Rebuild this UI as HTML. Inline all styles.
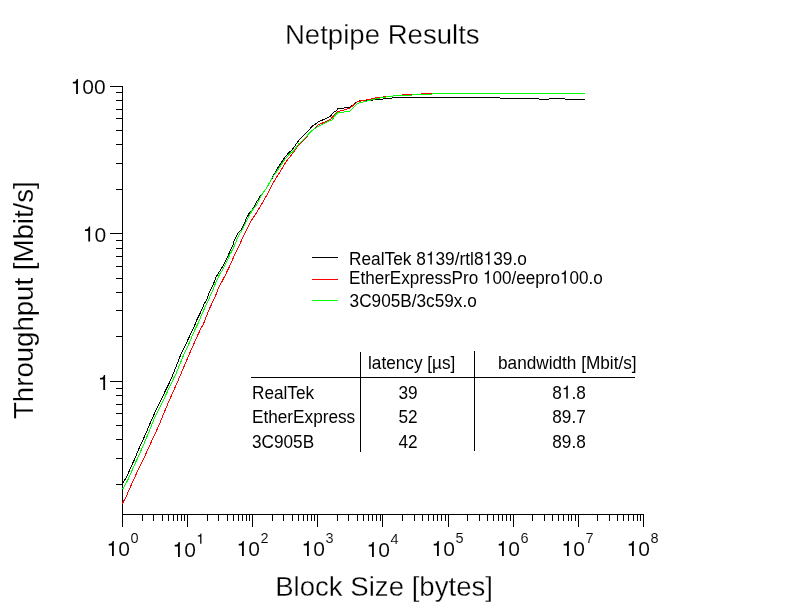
<!DOCTYPE html>
<html><head><meta charset="utf-8"><title>Netpipe Results</title>
<style>
html,body{margin:0;padding:0;background:#fff;}
svg{display:block;will-change:transform;}
text{font-family:"Liberation Sans",sans-serif;fill:#000;stroke:#fff;stroke-width:0.3px;paint-order:fill stroke;}
.ax{stroke:#000;stroke-width:1;fill:none;shape-rendering:crispEdges;}
.cv{stroke-width:1;fill:none;shape-rendering:crispEdges;stroke-linejoin:round;}
.big{font-size:27.6px;}
.sm{font-size:17.2px;stroke:none;}
.tk{font-size:21px;stroke-width:0.1px;}
.sup{font-size:14.5px;stroke-width:0.1px;}
.h{visibility:hidden;}
.g1{fill:#000;stroke:none;}
</style></head><body>
<svg width="792" height="612" viewBox="0 0 792 612">
<rect x="0" y="0" width="792" height="612" fill="#ffffff"/>
<text class="big" transform="translate(284.9,44) scale(1,1.035)">Netpipe Results</text>
<text class="big" transform="translate(275.2,595.7) scale(1,1.035)">Block Size [bytes]</text>
<text class="big" style="stroke-width:0.15px" transform="translate(33,419) rotate(-90) scale(1,1.025)">Throughput [Mbit/s]</text>
<path class="ax" d="M122.5 86.5V514.5H643.5M122.5 514.5V526.5M142.5 514.5V520.5M153.5 514.5V520.5M162.5 514.5V520.5M168.5 514.5V520.5M173.5 514.5V520.5M177.5 514.5V520.5M181.5 514.5V520.5M184.5 514.5V520.5M187.5 514.5V526.5M207.5 514.5V520.5M218.5 514.5V520.5M227.5 514.5V520.5M233.5 514.5V520.5M238.5 514.5V520.5M242.5 514.5V520.5M246.5 514.5V520.5M249.5 514.5V520.5M252.5 514.5V526.5M272.5 514.5V520.5M283.5 514.5V520.5M292.5 514.5V520.5M298.5 514.5V520.5M303.5 514.5V520.5M307.5 514.5V520.5M311.5 514.5V520.5M314.5 514.5V520.5M317.5 514.5V526.5M337.5 514.5V520.5M348.5 514.5V520.5M357.5 514.5V520.5M363.5 514.5V520.5M368.5 514.5V520.5M372.5 514.5V520.5M376.5 514.5V520.5M380.5 514.5V520.5M382.5 514.5V526.5M402.5 514.5V520.5M414.5 514.5V520.5M422.5 514.5V520.5M428.5 514.5V520.5M433.5 514.5V520.5M437.5 514.5V520.5M441.5 514.5V520.5M445.5 514.5V520.5M448.5 514.5V526.5M467.5 514.5V520.5M479.5 514.5V520.5M487.5 514.5V520.5M493.5 514.5V520.5M498.5 514.5V520.5M502.5 514.5V520.5M506.5 514.5V520.5M510.5 514.5V520.5M513.5 514.5V526.5M532.5 514.5V520.5M544.5 514.5V520.5M552.5 514.5V520.5M558.5 514.5V520.5M563.5 514.5V520.5M568.5 514.5V520.5M571.5 514.5V520.5M575.5 514.5V520.5M578.5 514.5V526.5M597.5 514.5V520.5M609.5 514.5V520.5M617.5 514.5V520.5M623.5 514.5V520.5M628.5 514.5V520.5M633.5 514.5V520.5M637.5 514.5V520.5M640.5 514.5V520.5M643.5 514.5V526.5M122.5 86.5H110M122.5 92.5H116M122.5 100.5H116M122.5 109.5H116M122.5 118.5H116M122.5 130.5H116M122.5 144.5H116M122.5 163.5H116M122.5 189.5H116M122.5 233.5H110M122.5 240.5H116M122.5 248.5H116M122.5 256.5H116M122.5 266.5H116M122.5 278.5H116M122.5 292.5H116M122.5 310.5H116M122.5 336.5H116M122.5 381.5H110M122.5 388.5H116M122.5 395.5H116M122.5 404.5H116M122.5 413.5H116M122.5 425.5H116M122.5 439.5H116M122.5 458.5H116M122.5 484.5H116"/>
<path class="g1" transform="translate(106.56,556.00) scale(0.02100,-0.02100)" d="M259 0V505H102V568C238 585 258 600 289 709H347V0Z"/><text class="tk" x="118.24" y="556.00">0</text><text class="sup" x="130.42" y="542.80">0</text>
<path class="g1" transform="translate(172.56,557.00) scale(0.02100,-0.02100)" d="M259 0V505H102V568C238 585 258 600 289 709H347V0Z"/><text class="tk" x="184.24" y="557.00">0</text><path class="g1" transform="translate(196.42,543.80) scale(0.01450,-0.01450)" d="M259 0V505H102V568C238 585 258 600 289 709H347V0Z"/>
<path class="g1" transform="translate(236.56,556.00) scale(0.02100,-0.02100)" d="M259 0V505H102V568C238 585 258 600 289 709H347V0Z"/><text class="tk" x="248.24" y="556.00">0</text><text class="sup" x="260.42" y="542.80">2</text>
<path class="g1" transform="translate(301.56,556.00) scale(0.02100,-0.02100)" d="M259 0V505H102V568C238 585 258 600 289 709H347V0Z"/><text class="tk" x="313.24" y="556.00">0</text><text class="sup" x="325.42" y="542.80">3</text>
<path class="g1" transform="translate(366.56,557.00) scale(0.02100,-0.02100)" d="M259 0V505H102V568C238 585 258 600 289 709H347V0Z"/><text class="tk" x="378.24" y="557.00">0</text><text class="sup" x="390.42" y="543.80">4</text>
<path class="g1" transform="translate(431.56,556.00) scale(0.02100,-0.02100)" d="M259 0V505H102V568C238 585 258 600 289 709H347V0Z"/><text class="tk" x="443.24" y="556.00">0</text><text class="sup" x="455.42" y="542.80">5</text>
<path class="g1" transform="translate(496.56,556.00) scale(0.02100,-0.02100)" d="M259 0V505H102V568C238 585 258 600 289 709H347V0Z"/><text class="tk" x="508.24" y="556.00">0</text><text class="sup" x="520.42" y="542.80">6</text>
<path class="g1" transform="translate(561.56,556.00) scale(0.02100,-0.02100)" d="M259 0V505H102V568C238 585 258 600 289 709H347V0Z"/><text class="tk" x="573.24" y="556.00">0</text><text class="sup" x="585.42" y="542.80">7</text>
<path class="g1" transform="translate(626.56,556.00) scale(0.02100,-0.02100)" d="M259 0V505H102V568C238 585 258 600 289 709H347V0Z"/><text class="tk" x="638.24" y="556.00">0</text><text class="sup" x="650.42" y="542.80">8</text>
<path class="g1" transform="translate(70.66,94.00) scale(0.02100,-0.02100)" d="M259 0V505H102V568C238 585 258 600 289 709H347V0Z"/><text class="tk" x="82.34" y="94.00">0</text><text class="tk" x="94.02" y="94.00">0</text>
<path class="g1" transform="translate(82.84,241.50) scale(0.02100,-0.02100)" d="M259 0V505H102V568C238 585 258 600 289 709H347V0Z"/><text class="tk" x="94.52" y="241.50">0</text>
<path class="g1" transform="translate(97.82,390.00) scale(0.02100,-0.02100)" d="M259 0V505H102V568C238 585 258 600 289 709H347V0Z"/>
<polyline class="cv" stroke="#000000" points="122.5,484.0 127.3,475.4 131.8,465.1 135.3,457.7 138.7,449.1 142.0,442.0 146.4,432.1 149.8,424.1 153.8,415.0 157.8,406.4 161.8,398.4 165.8,389.9 169.2,383.2 173.0,374.4 177.5,363.0 181.5,352.7 186.1,343.6 190.7,333.9 194.7,325.3 196.7,320.1 200.7,312.1 204.1,304.1 207.0,299.0 208.7,293.9 211.2,289.0 214.1,282.2 216.1,277.0 218.0,273.8 221.5,268.4 224.4,263.5 226.9,258.1 229.8,251.8 233.2,244.9 233.7,241.7 237.5,233.7 241.0,230.3 243.3,225.7 246.7,217.7 249.6,212.6 253.0,208.6 255.8,203.4 259.8,196.6 262.9,193.2 266.6,188.0 271.3,179.3 272.0,178.5 275.4,171.9 280.0,164.4 282.3,161.0 285.1,157.0 289.1,152.4 292.0,150.1 294.8,146.1 298.3,141.0 303.0,135.9 308.7,130.1 312.4,126.2 318.5,121.9 330.0,116.5 334.3,111.5 336.0,111.3 338.1,108.5 349.5,107.5 357.7,101.3 361.0,100.6 369.1,100.4 377.2,99.5 388.7,98.5 395.6,97.5 493.5,97.5 505.5,98.5 532.0,98.5 545.5,99.5 553.6,98.5 565.1,99.0 573.2,99.5 585.0,99.5"/>
<polyline class="cv" stroke="#ff0000" points="122.5,503.6 126.9,494.9 131.4,484.6 137.1,472.0 143.7,458.9 148.2,448.6 151.0,442.5 154.8,434.4 159.4,424.1 163.4,414.4 167.4,404.7 171.9,394.4 176.4,384.5 181.4,372.7 186.5,360.7 191.7,348.7 196.2,338.4 200.8,328.7 203.4,324.2 207.1,314.4 208.9,309.9 212.9,301.5 216.3,293.9 218.4,288.0 220.1,284.6 222.0,281.5 225.7,274.3 231.4,262.5 233.8,256.7 237.1,250.0 239.2,245.5 244.0,234.9 250.9,221.2 257.7,210.9 263.0,201.7 267.6,193.7 272.8,183.3 278.6,174.1 285.4,162.7 293.4,152.4 298.0,145.6 299.7,144.4 304.1,139.9 309.9,133.0 318.5,124.8 326.3,121.4 330.0,119.8 334.3,115.3 338.1,111.5 349.5,108.4 357.7,101.5 369.1,99.5 377.2,97.5 388.7,96.5 396.8,95.5 399.0,95.5 406.0,94.5 416.0,94.5 427.0,93.5 585.0,93.5"/>
<polyline class="cv" stroke="#00ff00" points="122.5,489.4 127.3,481.1 131.8,470.9 137.5,458.3 142.1,448.0 143.5,445.0 149.3,431.0 154.4,418.4 160.1,407.0 164.7,397.3 169.3,387.6 173.3,379.0 175.9,373.9 180.4,363.0 183.9,354.4 189.0,343.6 193.5,332.7 197.9,323.8 201.8,314.4 206.4,304.1 208.7,300.0 210.4,295.0 213.1,290.0 214.4,285.9 217.7,278.6 219.5,274.3 222.9,269.4 226.4,262.5 229.8,254.7 233.6,247.5 236.7,240.0 239.8,233.7 243.2,228.0 248.3,217.7 251.8,210.9 256.3,205.2 260.9,196.0 266.6,188.0 271.3,179.3 278.8,168.4 284.5,159.9 290.8,152.4 292.5,152.4 294.8,149.0 298.8,143.9 300.7,142.1 305.3,137.6 311.0,131.3 318.5,126.1 330.0,120.5 332.0,120.3 334.3,116.3 338.1,112.5 349.5,111.5 357.7,103.3 369.1,100.5 377.2,98.5 388.7,96.5 396.8,95.5 406.6,95.5 413.6,94.8 427.2,94.5 434.2,93.8 440.0,93.5 585.0,93.5"/>
<path class="ax" style="stroke:#000" d="M312 257.5H338"/>
<path class="ax" style="stroke:#ff0000" d="M312 279.5H338"/>
<path class="ax" style="stroke:#00ff00" d="M312 300.5H338"/>
<text class="sm" style="font-size:17.3px" transform="translate(349,264.5) scale(1,1.06)">RealTek 8<tspan class="h">1</tspan>39/rtl8<tspan class="h">1</tspan>39.o</text>
<text class="sm" style="font-size:17.1px" transform="translate(349,283.5) scale(1,1.06)">EtherExpressPro <tspan class="h">1</tspan>00/eepro<tspan class="h">1</tspan>00.o</text>
<text class="sm" transform="translate(349.6,306.5) scale(1,1.06)">3C905B/3c59x.o</text>
<path class="ax" d="M251 377.5H635M360.5 352V452M474.5 351V451"/>
<text class="sm" transform="translate(368,369) scale(1,1.06)">latency [µs]</text>
<text class="sm" transform="translate(498,369) scale(1,1.06)">bandwidth [Mbit/s]</text>
<text class="sm" transform="translate(252,398.5) scale(1,1.06)">RealTek</text><text class="sm" text-anchor="middle" transform="translate(408,398.5) scale(1,1.06)">39</text><text class="sm" text-anchor="middle" transform="translate(569,398.5) scale(1,1.06)">8<tspan class="h">1</tspan>.8</text>
<text class="sm" transform="translate(252,422.5) scale(1,1.06)">EtherExpress</text><text class="sm" text-anchor="middle" transform="translate(408,422.5) scale(1,1.06)">52</text><text class="sm" text-anchor="middle" transform="translate(569,422.5) scale(1,1.06)">89.7</text>
<text class="sm" transform="translate(252,447.5) scale(1,1.06)">3C905B</text><text class="sm" text-anchor="middle" transform="translate(408,447.5) scale(1,1.06)">42</text><text class="sm" text-anchor="middle" transform="translate(569,447.5) scale(1,1.06)">89.8</text>
<g transform="translate(349,264.5) scale(1,1.06)"><path class="g1" transform="translate(76.88,0.00) scale(0.01720,-0.01720)" d="M259 0V505H102V568C238 585 258 600 289 709H347V0Z"/></g><g transform="translate(349,264.5) scale(1,1.06)"><path class="g1" transform="translate(134.56,0.00) scale(0.01720,-0.01720)" d="M259 0V505H102V568C238 585 258 600 289 709H347V0Z"/></g><g transform="translate(349,283.5) scale(1,1.06)"><path class="g1" transform="translate(133.92,0.00) scale(0.01720,-0.01720)" d="M259 0V505H102V568C238 585 258 600 289 709H347V0Z"/></g><g transform="translate(349,283.5) scale(1,1.06)"><path class="g1" transform="translate(210.91,0.00) scale(0.01720,-0.01720)" d="M259 0V505H102V568C238 585 258 600 289 709H347V0Z"/></g><g transform="translate(569,398.5) scale(1,1.06)"><path class="g1" transform="translate(-7.17,0.00) scale(0.01720,-0.01720)" d="M259 0V505H102V568C238 585 258 600 289 709H347V0Z"/></g>
</svg>
</body></html>
